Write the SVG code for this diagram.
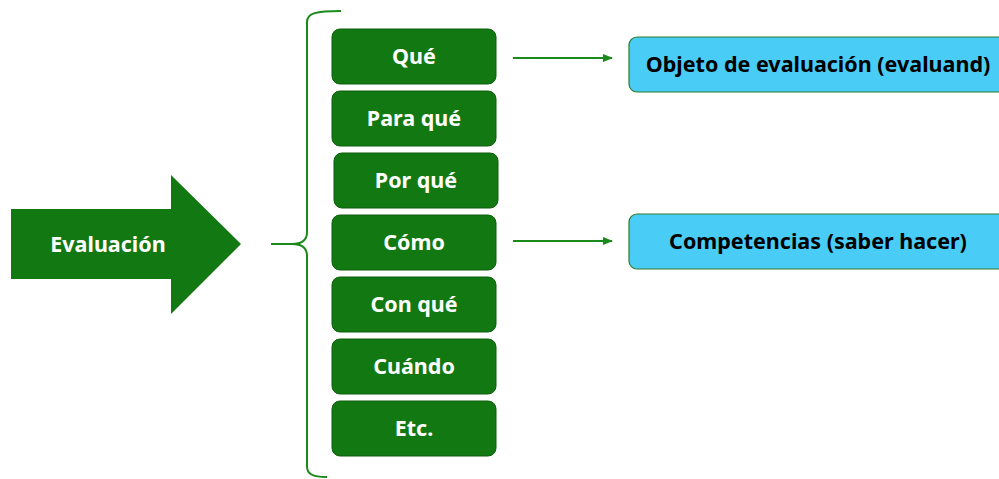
<svg xmlns="http://www.w3.org/2000/svg" width="999" height="479" viewBox="0 0 999 479">
<style>
.g{fill:#127812;stroke:#0d5e0d;stroke-width:1}
.c{fill:#49cdf6;stroke:#2f7a2a;stroke-width:1.2}
.t{font-family:"Noto Sans","Open Sans",sans-serif;font-weight:bold;font-size:21.5px;text-anchor:middle;dominant-baseline:central}
.w{fill:#ffffff}
.k{fill:#000000}
.ln{fill:none;stroke:#1a8a1a;stroke-width:2}
</style>
<defs>
<marker id="ah" markerWidth="10" markerHeight="10" refX="9" refY="5" orient="auto" markerUnits="userSpaceOnUse">
<path d="M0,1 L10,5 L0,9 Z" fill="#1a8a1a"/>
</marker>
</defs>
<g id="evaluacion">
<path d="M11,209 L171,209 L171,175 L241,244 L171,314 L171,279 L11,279 Z" fill="#127812"/>
<text class="t w" x="108" y="243">Evaluación</text>
</g>
<g id="connectors">
<path class="ln" d="M341,11 C316,11 307,13 307,22 L307,232 C307,240 302,244 292,244 L271,244 L292,244 C302,244 307,248 307,256 L307,466 C307,474 312,477 327,477"/>
<path class="ln" d="M513,58 L612,58" marker-end="url(#ah)"/>
<path class="ln" d="M513,241 L612,241" marker-end="url(#ah)"/>
</g>
<g id="que"><rect class="g" x="332" y="29" width="164" height="55" rx="8"/><text class="t w" x="414" y="55">Qué</text></g>
<g id="paraque"><rect class="g" x="332" y="91" width="164" height="55" rx="8"/><text class="t w" x="414" y="117">Para qué</text></g>
<g id="porque"><rect class="g" x="334" y="153" width="164" height="55" rx="8"/><text class="t w" x="416" y="179">Por qué</text></g>
<g id="como"><rect class="g" x="332" y="215" width="164" height="55" rx="8"/><text class="t w" x="414" y="241">Cómo</text></g>
<g id="conque"><rect class="g" x="332" y="277" width="164" height="55" rx="8"/><text class="t w" x="414" y="303">Con qué</text></g>
<g id="cuando"><rect class="g" x="332" y="339" width="164" height="55" rx="8"/><text class="t w" x="414" y="365">Cuándo</text></g>
<g id="etc"><rect class="g" x="332" y="401" width="164" height="55" rx="8"/><text class="t w" x="414" y="427">Etc.</text></g>
<g id="objeto"><rect class="c" x="629" y="37" width="380" height="55" rx="8"/><text class="t k" x="818" y="63">Objeto de evaluación (evaluand)</text></g>
<g id="competencias"><rect class="c" x="629" y="214" width="380" height="55" rx="8"/><text class="t k" x="818" y="240">Competencias (saber hacer)</text></g>
</svg>
